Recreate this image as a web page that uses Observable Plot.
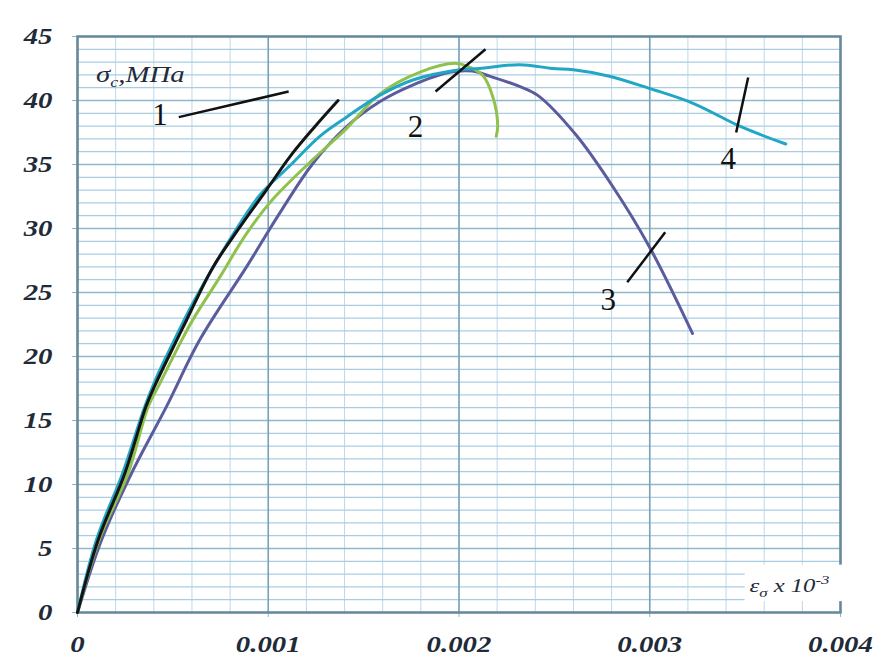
<!DOCTYPE html>
<html><head><meta charset="utf-8">
<script src="https://cdn.jsdelivr.net/npm/d3@7"></script>
<script src="https://cdn.jsdelivr.net/npm/@observablehq/plot@0.6"></script>
<style>
html,body{margin:0;padding:0;background:#fff;}
#chart svg{display:block;}
</style>
</head><body><div id="chart"></div>
<script>
// ---- data ----
const strain1 = [0, 0.000109, 0.000249, 0.000359, 0.000411, 0.000521, 0.000572, 0.000711, 0.000851, 0.00099, 0.001113, 0.001235, 0.001366];
const stress1 = [0, 5.7, 10.9, 16.1, 17.9, 21.3, 22.85, 27.0, 30.1, 33.0, 35.6, 37.8, 40.0];

const strain2 = [0, 0.000114, 0.000266, 0.000371, 0.000432, 0.000547, 0.000606, 0.000746, 0.000886, 0.001025, 0.001235, 0.00141, 0.001584, 0.001793, 0.001985, 0.002055, 0.002125, 0.002177, 0.002203, 0.002195];
const stress2 = [0, 5.7, 10.9, 16.1, 17.9, 21.3, 22.9, 26.2, 29.6, 32.3, 35.4, 37.8, 40.5, 42.2, 42.9, 42.6, 41.95, 40.3, 38.0, 37.2];

const strain3 = [0, 0.000127, 0.000284, 0.000467, 0.000641, 0.000886, 0.00106, 0.001235, 0.00141, 0.001584, 0.001757, 0.00195, 0.00207, 0.00216, 0.002317, 0.002413, 0.002614, 0.002805, 0.002997, 0.003224];
const stress3 = [0, 5.7, 10.9, 16.1, 21.3, 27.0, 31.2, 35.1, 37.95, 39.9, 41.2, 42.2, 42.3, 41.9, 41.1, 40.4, 37.3, 33.3, 28.6, 21.8];

const strain4 = [0, 0.0001, 0.000237, 0.000353, 0.000415, 0.000495, 0.000606, 0.000781, 0.000955, 0.001113, 0.00127, 0.00141, 0.001584, 0.001758, 0.002003, 0.002107, 0.002317, 0.00249, 0.0026, 0.002788, 0.002997, 0.003224, 0.003478, 0.003713];
const stress4 = [0, 5.7, 10.9, 16.1, 18.4, 20.9, 24.2, 28.7, 32.6, 34.9, 37.2, 38.7, 40.4, 41.6, 42.4, 42.5, 42.8, 42.5, 42.4, 41.9, 40.95, 39.8, 37.95, 36.6];

const seriesNames = ["1", "2", "3", "4"];
const xTicks = [0, 0.001, 0.002, 0.003, 0.004];
const xTickLabels = ["0", "0.001", "0.002", "0.003", "0.004"];
const yTicks = [0, 5, 10, 15, 20, 25, 30, 35, 40, 45];
const yTickLabels = ["0", "5", "10", "15", "20", "25", "30", "35", "40", "45"];

// annotation labels: number, label point, leader start, leader end (data space)
const annoText = ["1", "2", "3", "4"];
const annoTextX = [0.000432, 0.001772, 0.002783, 0.003411];
const annoTextY = [38.9, 37.9, 24.4, 35.4];
const leadX1 = [0.000531, 0.001877, 0.002882, 0.003453];
const leadY1 = [38.7, 40.7, 25.8, 37.5];
const leadX2 = [0.001107, 0.002139, 0.003081, 0.003516];
const leadY2 = [40.7, 44.0, 29.7, 41.8];

const yAxisTitle = {main: "σ", sub: "c", rest: ",МПа"};
const xAxisTitle = {main: "ε", sub: "σ", rest: " x 10", sup: "-3"};

// ---- styles ----
const colors = {"1": "#141414", "2": "#8fc24c", "3": "#5a5c9e", "4": "#22a6c6"};
const drawOrder = ["3", "2", "4", "1"];

// ---- build tables ----
const rows = [];
const src = {"1": [strain1, stress1], "2": [strain2, stress2], "3": [strain3, stress3], "4": [strain4, stress4]};
for (const name of drawOrder) {
  const [xs, ys] = src[name];
  xs.forEach((x, i) => rows.push({series: name, strain: x, stress: ys[i]}));
}
const annos = annoText.map((t, i) => ({t, x: annoTextX[i], y: annoTextY[i], x1: leadX1[i], y1: leadY1[i], x2: leadX2[i], y2: leadY2[i]}));

const minorX = d3.range(0, 0.00400001, 0.0002);
const minorY = d3.range(0, 45.001, 1);

const serif = "Liberation Serif, Times New Roman, serif";

const plot = Plot.plot({
  width: 878,
  height: 659,
  marginLeft: 77,
  marginRight: 38,
  marginTop: 36,
  marginBottom: 47,
  style: {fontFamily: serif, background: "#fff"},
  x: {domain: [0, 0.004], axis: null},
  y: {domain: [0, 45], axis: null},
  marks: [
    Plot.ruleX(minorX, {stroke: "#bcd9e8", strokeWidth: 1}),
    Plot.ruleY(minorY, {stroke: "#a9cde0", strokeWidth: 1.2}),
    Plot.ruleY(yTicks, {stroke: "#8fb7cc", strokeWidth: 1.5}),
    Plot.ruleX(xTicks, {stroke: "#7ba2b8", strokeWidth: 1.6}),
    Plot.axisX(xTicks, {anchor: "bottom", tickSize: 5, tickPadding: 17, stroke: "#8db6cc",
      tickFormat: d => xTickLabels[xTicks.indexOf(d)], fill: "#1f2b38",
      fontSize: 24, label: null}),
    Plot.axisY(yTicks, {anchor: "left", tickSize: 5, tickPadding: 20, stroke: "#8db6cc",
      tickFormat: d => yTickLabels[yTicks.indexOf(d)], fill: "#1f2b38",
      fontSize: 24, label: null}),
    Plot.frame({stroke: "#67899b", strokeWidth: 2.5}),
    Plot.line(rows, {x: "strain", y: "stress", z: "series", stroke: d => colors[d.series], strokeWidth: 3, curve: "catmull-rom", strokeLinejoin: "round", strokeLinecap: "round"}),
    Plot.link(annos, {x1: "x1", y1: "y1", x2: "x2", y2: "y2", stroke: "#111", strokeWidth: 2.5}),
    Plot.text(annos, {x: "x", y: "y", text: "t", fontSize: 31, fill: "#111", fontFamily: serif})
  ]
});
document.getElementById("chart").appendChild(plot);

const svg = d3.select(plot);
// serif bold italic tick labels, stretched horizontally like the reference
svg.selectAll('g[aria-label="x-axis tick label"], g[aria-label="y-axis tick label"]')
  .style("font-family", serif).style("font-style", "italic").style("font-weight", "bold").style("font-size", "24px");
svg.selectAll('g[aria-label="x-axis tick label"] text, g[aria-label="y-axis tick label"] text')
  .style("font-family", serif).style("font-style", "italic").style("font-weight", "bold")
  .attr("transform", function() { return (this.getAttribute("transform") || "") + " scale(1.2,1)"; });

const sx = plot.scale("x"), sy = plot.scale("y");

// y axis title
{
  const t = svg.append("text")
    .attr("transform", `translate(${sx.apply(0.0001)},${sy.apply(41.4)}) scale(1.2,1)`)
    .style("font-family", serif).style("font-style", "italic").style("font-size", "24px")
    .style("text-anchor", "start").attr("fill", "#1f2b38");
  t.append("tspan").text(yAxisTitle.main);
  t.append("tspan").style("font-size", "15px").attr("dy", 5).text(yAxisTitle.sub);
  t.append("tspan").attr("dy", -5).text(yAxisTitle.rest);
}
// x axis title with white box
{
  const bx = sx.apply(0.0035), by = sy.apply(3.7);
  svg.append("rect").attr("x", bx).attr("y", by).attr("width", 878 - bx).attr("height", sy.apply(0.85) - by).attr("fill", "#fff");
  const t = svg.append("text")
    .attr("transform", `translate(${sx.apply(0.003525)},${sy.apply(1.55)}) scale(1.3,1)`)
    .style("font-family", serif).style("font-style", "italic").style("font-size", "19px")
    .style("text-anchor", "start").attr("fill", "#1f2b38");
  t.append("tspan").text(xAxisTitle.main);
  t.append("tspan").style("font-size", "13px").attr("dy", 5).text(xAxisTitle.sub);
  t.append("tspan").attr("dy", -5).text(xAxisTitle.rest);
  t.append("tspan").style("font-size", "13px").attr("dy", -8).text(xAxisTitle.sup);
}
</script>
</body></html>
